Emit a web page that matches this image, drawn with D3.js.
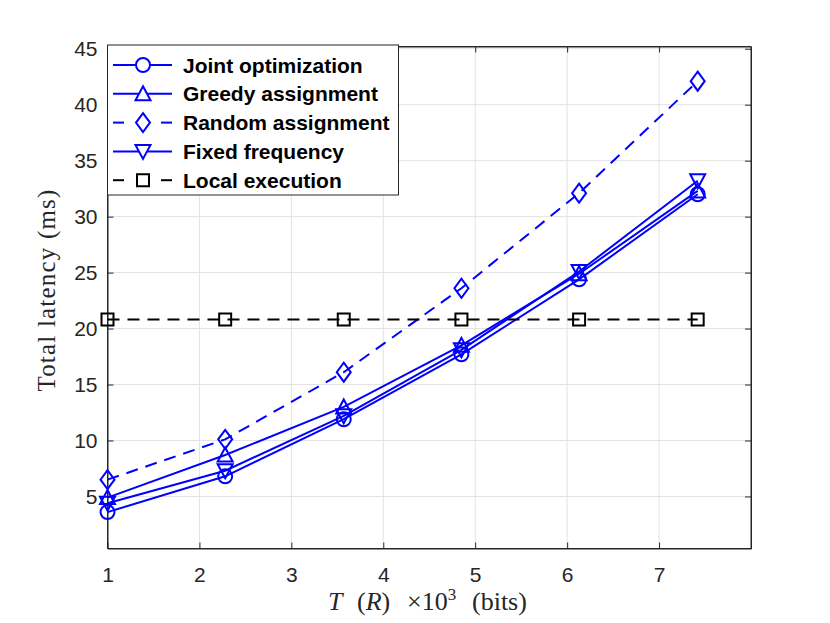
<!DOCTYPE html>
<head>
    <meta charset="utf-8" />
    <script src="https://d3js.org/d3.v7.min.js"></script>
    <style>
        body { margin: 0; background: #fff; }
        text { font-family: "Liberation Sans", Arial, sans-serif; }
    </style>
</head>
<body>
<script>
    var width = 830, height = 623;

    // data
    var xs = [1, 2.28, 3.57, 4.85, 6.13, 7.42];
    var joint = [3.6, 6.8, 11.9, 17.7, 24.4, 32.0];
    var greedy = [4.9, 8.7, 13.0, 18.5, 24.9, 32.3];
    var randomA = [6.5, 10.1, 16.1, 23.6, 32.1, 42.1];
    var fixedF = [4.4, 7.3, 12.2, 18.1, 25.1, 33.2];
    var local = [20.8, 20.8, 20.8, 20.8, 20.8, 20.8];
    var xTicks = [1, 2, 3, 4, 5, 6, 7];
    var yTicks = [5, 10, 15, 20, 25, 30, 35, 40, 45];
    var names = ["Joint optimization", "Greedy assignment", "Random assignment", "Fixed frequency", "Local execution"];

    var series = [
        { name: names[0], values: joint, color: "#0000ff", dash: null, marker: "circle" },
        { name: names[1], values: greedy, color: "#0000ff", dash: null, marker: "up" },
        { name: names[2], values: randomA, color: "#0000ff", dash: "12,8", marker: "diamond" },
        { name: names[3], values: fixedF, color: "#0000ff", dash: null, marker: "down" },
        { name: names[4], values: local, color: "#000000", dash: "12,8", marker: "square" }
    ];

    var pLeft = 107.5, pRight = 751, pTop = 46.5, pBottom = 548.5;

    var x = d3.scaleLinear().domain([1, 8]).range([pLeft, pRight]);
    var y = d3.scaleLinear().domain([0.35, 45.2]).range([pBottom, pTop]);

    var svg = d3.select("body").append("svg")
        .attr("width", width).attr("height", height);

    // marker shapes
    function markerPath(type) {
        if (type == "circle") return "M7,0A7,7 0 1,1 -7,0A7,7 0 1,1 7,0Z";
        if (type == "up") return "M0,-7.5L7.5,6.5L-7.5,6.5Z";
        if (type == "down") return "M0,7.5L7.5,-6.5L-7.5,-6.5Z";
        if (type == "diamond") return "M0,-9.5L7,0L0,9.5L-7,0Z";
        if (type == "square") return "M-6,-6H6V6H-6Z";
    }

    // grid
    var grid = svg.append("g").attr("stroke", "#e3e3e3").attr("stroke-width", 1);
    grid.selectAll(".gx").data(xTicks).join("line")
        .attr("x1", d => x(d)).attr("x2", d => x(d))
        .attr("y1", pTop).attr("y2", pBottom);
    grid.selectAll(".gy").data(yTicks).join("line")
        .attr("y1", d => y(d)).attr("y2", d => y(d))
        .attr("x1", pLeft).attr("x2", pRight);

    // axes (box with inward ticks on all sides)
    var tl = 6;
    var fmt = d3.format("d");
    svg.append("g").attr("transform", "translate(0," + pBottom + ")")
        .call(d3.axisBottom(x).tickValues(xTicks).tickFormat(fmt).tickSizeInner(-tl).tickSizeOuter(0).tickPadding(19))
        .call(g => g.selectAll("text").attr("font-size", 21).attr("fill", "#262626"));
    svg.append("g").attr("transform", "translate(0," + pTop + ")")
        .call(d3.axisTop(x).tickValues(xTicks).tickSizeInner(-tl).tickSizeOuter(0).tickFormat(""));
    svg.append("g").attr("transform", "translate(" + pLeft + ",0)")
        .call(d3.axisLeft(y).tickValues(yTicks).tickFormat(fmt).tickSizeInner(-tl).tickSizeOuter(0).tickPadding(10))
        .call(g => g.selectAll("text").attr("font-size", 21).attr("fill", "#262626"));
    svg.append("g").attr("transform", "translate(" + pRight + ",0)")
        .call(d3.axisRight(y).tickValues(yTicks).tickSizeInner(-tl).tickSizeOuter(0).tickFormat(""));
    svg.selectAll(".domain, .tick line").attr("stroke", "#262626").attr("stroke-width", 1);
    svg.append("rect").attr("x", pLeft).attr("y", pTop)
        .attr("width", pRight - pLeft).attr("height", pBottom - pTop)
        .attr("fill", "none").attr("stroke", "#262626").attr("stroke-width", 1);

    // lines and markers
    var line = d3.line().x((d, i) => x(xs[i])).y(d => y(d));
    series.forEach(function(s) {
        svg.append("path")
            .attr("d", line(s.values))
            .attr("fill", "none")
            .attr("stroke", s.color)
            .attr("stroke-width", 2)
            .attr("stroke-dasharray", s.dash);
        svg.selectAll(null).data(s.values).join("path")
            .attr("d", markerPath(s.marker))
            .attr("transform", (d, i) => "translate(" + x(xs[i]) + "," + y(d) + ")")
            .attr("fill", "none")
            .attr("stroke", s.color)
            .attr("stroke-width", 2);
    });

    // axis labels (latex-like spacing)
    var serif = "'Liberation Serif', 'Times New Roman', serif";
    var xl = svg.append("text")
        .attr("y", 610)
        .style("font-family", serif)
        .attr("font-size", 26).attr("fill", "#262626");
    xl.append("tspan").attr("x", 328).attr("font-style", "italic").text("T");
    xl.append("tspan").attr("x", 357).text("(");
    xl.append("tspan").attr("font-style", "italic").text("R");
    xl.append("tspan").text(")");
    xl.append("tspan").attr("x", 407).text("\u00d710");
    xl.append("tspan").attr("font-size", 17).attr("dy", -10).text("3");
    xl.append("tspan").attr("x", 472).attr("dy", 10).text("(bits)");

    svg.append("text")
        .attr("transform", "translate(55,290) rotate(-90)")
        .attr("text-anchor", "middle")
        .style("font-family", serif)
        .style("letter-spacing", "1.2px")
        .attr("font-size", 25).attr("fill", "#262626")
        .text("Total latency (ms)");

    // legend
    var lg = svg.append("g");
    lg.append("rect").attr("x", pLeft).attr("y", 45)
        .attr("width", 291).attr("height", 150)
        .attr("fill", "#fff").attr("stroke", "#262626").attr("stroke-width", 1);
    series.forEach(function(s, i) {
        var cy = 65 + i * 28.8;
        if (s.dash) {
            lg.append("line").attr("x1", 113).attr("x2", 124)
                .attr("y1", cy).attr("y2", cy)
                .attr("stroke", s.color).attr("stroke-width", 2);
            lg.append("line").attr("x1", 161).attr("x2", 172)
                .attr("y1", cy).attr("y2", cy)
                .attr("stroke", s.color).attr("stroke-width", 2);
        } else {
            lg.append("line").attr("x1", 113).attr("x2", 172)
                .attr("y1", cy).attr("y2", cy)
                .attr("stroke", s.color).attr("stroke-width", 2);
        }
        lg.append("path").attr("d", markerPath(s.marker))
            .attr("transform", "translate(143," + cy + ")")
            .attr("fill", "#fff").attr("stroke", s.color).attr("stroke-width", 2);
        lg.append("text").attr("x", 183).attr("y", cy + 7.5)
            .attr("font-size", 21).attr("font-weight", "bold").attr("fill", "#000")
            .text(s.name);
    });
</script>
</body>
